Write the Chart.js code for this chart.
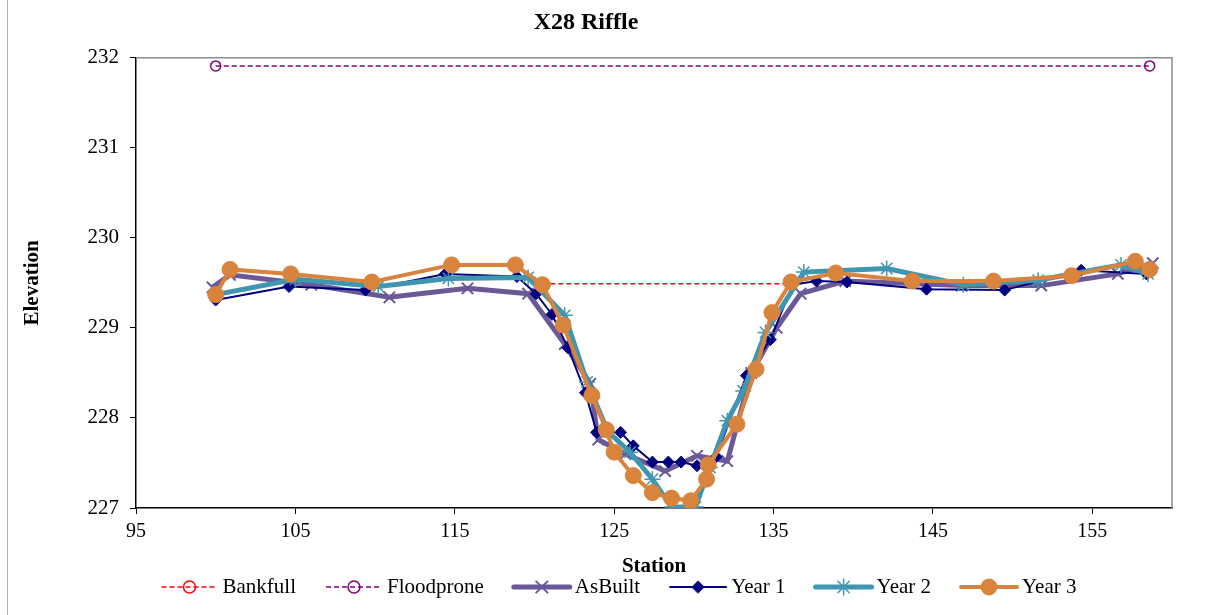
<!DOCTYPE html>
<html>
<head>
<meta charset="utf-8">
<script src="https://cdn.jsdelivr.net/npm/chart.js@4.4.1/dist/chart.umd.min.js"></script>
<style>
html, body { margin: 0; padding: 0; background: #fff; }
</style>
</head>
<body>
<canvas id="riffle-chart" width="1225" height="615"></canvas>
<script>
// X28 riffle cross section, stations and elevations
var xTicks = [95, 105, 115, 125, 135, 145, 155];
var yTicks = [227, 228, 229, 230, 231, 232];

var bankfullSta = [120.5, 136.1];
var bankfullElev = [229.49, 229.49];

var floodproneSta = [100.0, 158.6];
var floodproneElev = [231.91, 231.91];

var asBuiltSta = [99.8, 100.9, 106.0, 110.9, 115.8, 119.6, 121.9, 123.5, 124.0, 125.7, 128.2, 130.2, 132.1, 133.6, 135.2, 136.7, 139.5, 146.8, 151.8, 156.6, 158.8];
var asBuiltElev = [229.45, 229.59, 229.48, 229.34, 229.44, 229.38, 228.82, 228.38, 227.76, 227.60, 227.41, 227.58, 227.52, 228.50, 229.00, 229.38, 229.52, 229.47, 229.47, 229.60, 229.72];

var year1Sta = [100.0, 104.6, 109.4, 114.4, 118.9, 120.1, 121.1, 122.1, 123.2, 123.9, 125.4, 126.2, 127.4, 128.4, 129.2, 130.2, 131.4, 133.3, 134.8, 136.2, 137.7, 139.6, 144.6, 149.5, 154.3, 158.4];
var year1Elev = [229.31, 229.46, 229.42, 229.60, 229.57, 229.38, 229.15, 228.78, 228.28, 227.84, 227.84, 227.69, 227.51, 227.51, 227.51, 227.47, 227.57, 228.47, 228.87, 229.48, 229.52, 229.51, 229.43, 229.42, 229.64, 229.60];

var year2Sta = [100.0, 105.0, 110.2, 114.6, 119.6, 121.9, 123.3, 124.6, 126.0, 127.4, 128.6, 130.1, 131.0, 132.1, 133.1, 134.5, 136.9, 142.1, 146.9, 151.6, 156.8, 158.5];
var year2Elev = [229.37, 229.54, 229.46, 229.55, 229.56, 229.14, 228.40, 227.85, 227.62, 227.32, 227.01, 227.01, 227.45, 227.97, 228.30, 228.95, 229.62, 229.66, 229.48, 229.53, 229.70, 229.60];

var year3Sta = [100.0, 100.9, 104.7, 109.8, 114.8, 118.8, 120.5, 121.8, 123.6, 124.5, 125.0, 126.2, 127.4, 128.6, 129.8, 130.8, 130.9, 132.7, 133.9, 134.9, 136.1, 138.9, 143.7, 148.8, 153.7, 157.7, 158.6];
var year3Elev = [229.37, 229.65, 229.60, 229.51, 229.70, 229.70, 229.48, 229.03, 228.25, 227.87, 227.62, 227.36, 227.17, 227.11, 227.08, 227.32, 227.48, 227.93, 228.54, 229.17, 229.51, 229.61, 229.52, 229.52, 229.58, 229.74, 229.65];

function pts(sta, elev) {
    return sta.map(function (s, i) { return { x: s, y: elev[i] }; });
}

var serif = "'Liberation Serif', 'Times New Roman', serif";
Chart.defaults.font.family = serif;
Chart.defaults.color = '#000';

// gray frame on top/right of plot + thin page line at far left
var framePlugin = {
    id: 'frame',
    beforeDatasetsDraw: function (chart) {
        var ctx = chart.ctx, a = chart.chartArea;
        ctx.save();
        ctx.strokeStyle = '#8c8c8c';
        ctx.lineWidth = 1.5;
        ctx.beginPath();
        ctx.moveTo(a.left, a.top);
        ctx.lineTo(a.right, a.top);
        ctx.lineTo(a.right, a.bottom);
        ctx.stroke();
        ctx.strokeStyle = '#b0b0b0';
        ctx.lineWidth = 1;
        ctx.beginPath();
        ctx.moveTo(7.5, 0);
        ctx.lineTo(7.5, 615);
        ctx.stroke();
        ctx.restore();
    }
};

// legend drawn as line + marker, like the spreadsheet legend
var lineLegend = {
    id: 'lineLegend',
    afterDraw: function (chart) {
        var ctx = chart.ctx;
        var sets = chart.data.datasets;
        var symW = 56, symGap = 5, itemGap = 30, y = 587;
        ctx.save();
        ctx.font = '21px ' + serif;
        var total = 0;
        sets.forEach(function (ds, i) {
            total += symW + symGap + ctx.measureText(ds.label).width + (i < sets.length - 1 ? itemGap : 0);
        });
        var x = 619 - total / 2;
        sets.forEach(function (ds) {
            ctx.save();
            ctx.strokeStyle = ds.borderColor;
            ctx.lineWidth = ds.borderWidth;
            ctx.lineCap = ds.borderDash ? 'butt' : 'round';
            ctx.setLineDash(ds.borderDash || []);
            ctx.beginPath();
            ctx.moveTo(x, y);
            ctx.lineTo(x + symW, y);
            ctx.stroke();
            ctx.setLineDash([]);
            ctx.fillStyle = ds.pointBackgroundColor;
            ctx.strokeStyle = ds.pointBorderColor;
            ctx.lineWidth = ds.pointBorderWidth;
            Chart.helpers.drawPoint(ctx, {
                pointStyle: ds.pointStyle,
                radius: ds.legendRadius || ds.pointRadius,
                rotation: 0,
                borderWidth: ds.pointBorderWidth
            }, x + symW / 2, y);
            ctx.restore();
            x += symW + symGap;
            ctx.fillStyle = '#000';
            ctx.textBaseline = 'middle';
            ctx.textAlign = 'left';
            ctx.fillText(ds.label, x, y);
            x += ctx.measureText(ds.label).width + itemGap;
        });
        ctx.restore();
    }
};

var riffleCtx = document.getElementById('riffle-chart');

var riffleChart = new Chart(riffleCtx, {
    type: 'line',
    data: {
        datasets: [{
            label: 'Bankfull',
            data: pts(bankfullSta, bankfullElev),
            borderColor: '#ff0000',
            borderWidth: 1.5,
            borderDash: [5, 3],
            pointStyle: 'circle',
            pointRadius: 5,
            legendRadius: 6,
            pointBorderWidth: 1.5,
            pointBorderColor: '#ff0000',
            pointBackgroundColor: 'rgba(255,255,255,0)',
            order: 6
        }, {
            label: 'Floodprone',
            data: pts(floodproneSta, floodproneElev),
            borderColor: '#800080',
            borderWidth: 1.5,
            borderDash: [5, 3],
            pointStyle: 'circle',
            pointRadius: 5,
            legendRadius: 6,
            pointBorderWidth: 1.5,
            pointBorderColor: '#800080',
            pointBackgroundColor: 'rgba(255,255,255,0)',
            order: 5
        }, {
            label: 'AsBuilt',
            data: pts(asBuiltSta, asBuiltElev),
            borderColor: '#6b5897',
            borderWidth: 5,
            pointStyle: 'crossRot',
            pointRadius: 8,
            pointBorderWidth: 2,
            pointBorderColor: '#6b5897',
            pointBackgroundColor: '#6b5897',
            order: 4
        }, {
            label: 'Year 1',
            data: pts(year1Sta, year1Elev),
            borderColor: '#000080',
            borderWidth: 2,
            pointStyle: 'rectRot',
            pointRadius: 6,
            pointBorderWidth: 1,
            pointBorderColor: '#000080',
            pointBackgroundColor: '#000080',
            order: 3
        }, {
            label: 'Year 2',
            data: pts(year2Sta, year2Elev),
            borderColor: '#4096b0',
            borderWidth: 5,
            pointStyle: 'star',
            pointRadius: 8,
            pointBorderWidth: 1.5,
            pointBorderColor: '#4096b0',
            pointBackgroundColor: '#4096b0',
            order: 2
        }, {
            label: 'Year 3',
            data: pts(year3Sta, year3Elev),
            borderColor: '#d9843c',
            borderWidth: 4,
            pointStyle: 'circle',
            pointRadius: 8,
            pointBorderWidth: 1,
            pointBorderColor: '#d9843c',
            pointBackgroundColor: '#d9843c',
            order: 1
        }]
    },
    options: {
        responsive: false,
        animation: false,
        layout: { padding: { left: 0, right: 53, top: 0, bottom: 36 } },
        elements: { line: { tension: 0 } },
        plugins: {
            legend: { display: false },
            tooltip: { enabled: false },
            title: {
                display: true,
                text: 'X28 Riffle',
                color: '#000',
                font: { size: 24, weight: 'bold', family: serif },
                padding: { top: 8, bottom: 21 }
            }
        },
        scales: {
            x: {
                type: 'linear',
                min: 95,
                max: 160,
                afterBuildTicks: function (s) { s.ticks = xTicks.map(function (v) { return { value: v }; }); },
                afterFit: function (s) { s.height = 615 - 508 - 36; },
                ticks: { font: { size: 20 }, color: '#000', padding: 6 },
                grid: { drawOnChartArea: false, drawTicks: true, tickLength: 6, color: '#000' },
                border: { color: '#000', width: 1.5 },
                title: {
                    display: true,
                    text: 'Station',
                    color: '#000',
                    font: { size: 21, weight: 'bold' },
                    padding: { top: 2, bottom: 0 }
                }
            },
            y: {
                type: 'linear',
                min: 227,
                max: 232,
                afterBuildTicks: function (s) { s.ticks = yTicks.map(function (v) { return { value: v }; }); },
                afterFit: function (s) { s.width = 136; },
                ticks: { font: { size: 21 }, color: '#000', padding: 11 },
                grid: { drawOnChartArea: false, drawTicks: true, tickLength: 6, color: '#000' },
                border: { color: '#000', width: 1.5 },
                title: {
                    display: true,
                    text: 'Elevation',
                    color: '#000',
                    font: { size: 21, weight: 'bold' },
                    padding: { top: 20, bottom: 0 }
                }
            }
        }
    },
    plugins: [framePlugin, lineLegend]
});
</script>
</body>
</html>
